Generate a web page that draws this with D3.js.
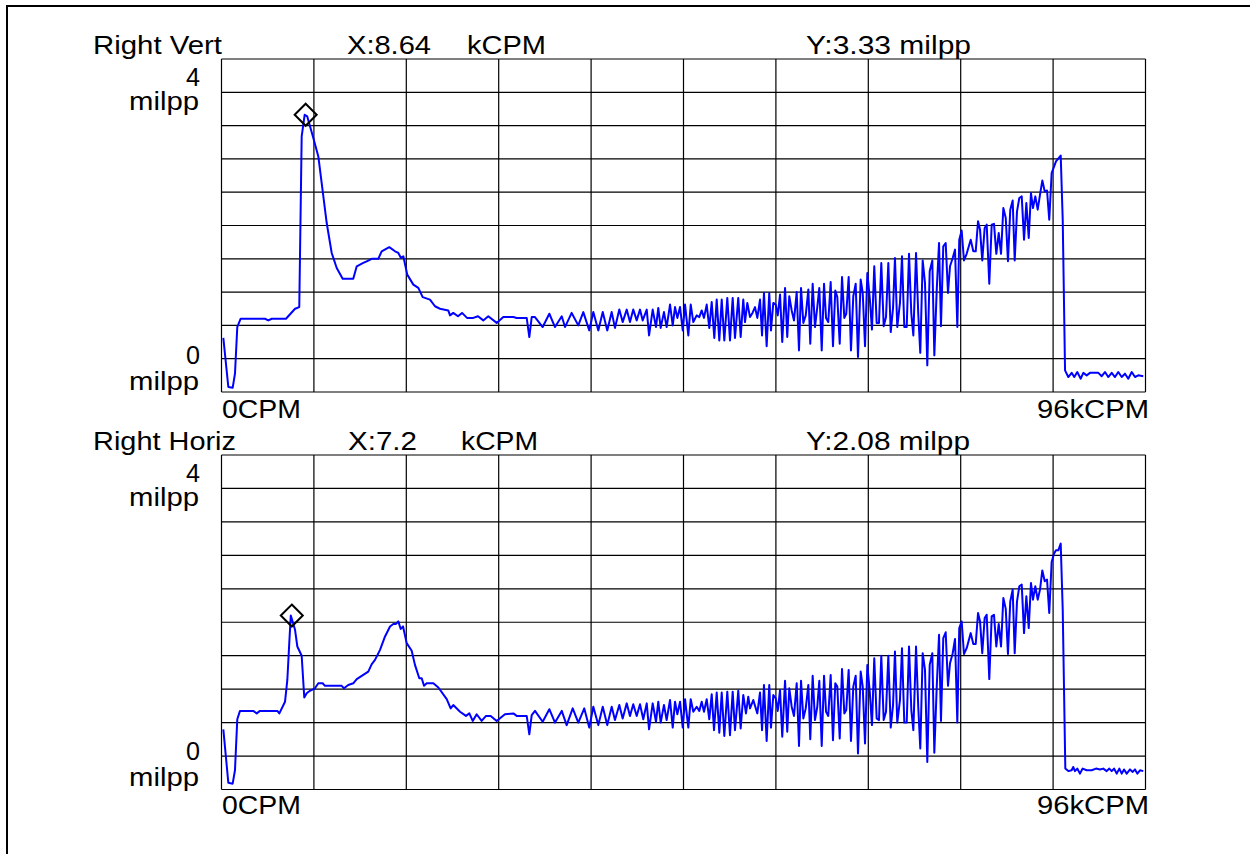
<!DOCTYPE html>
<html>
<head>
<meta charset="utf-8">
<script src="https://cdn.jsdelivr.net/npm/d3@7"></script>
<style>
html,body{margin:0;padding:0;background:#fff;}
svg{display:block;}
text{font-family:"Liberation Sans",Arial,sans-serif;font-size:25px;fill:#000;}
</style>
</head>
<body>
<svg id="chart" width="1250" height="854"></svg>
<script>
// ---- Data (kCPM vs milpp) ----
const xGridTicks = [0, 9.6, 19.2, 28.8, 38.4, 48, 57.6, 67.2, 76.8, 86.4, 96];
const yGridTicks = [0, 0.4, 0.8, 1.2, 1.6, 2.0, 2.4, 2.8, 3.2, 3.6, 4.0];

const vertX = [0.19,0.71,1.16,1.40,1.64,1.99,4.52,4.86,5.22,6.70,
7.64,8.08,8.33,8.64,8.91,9.54,10.06,10.93,11.45,11.97,
12.59,13.69,14.05,14.39,14.73,15.09,15.61,16.29,16.64,17.43,
18.03,18.37,18.65,18.89,19.30,19.93,20.45,20.90,21.66,22.18,
22.70,23.56,23.74,24.08,24.57,24.99,25.51,26.16,26.65,27.20,
27.72,28.59,29.28,30.32,30.67,31.71,31.98,32.23,32.57,33.37,
34.06,34.65,35.35,35.69,36.38,37.07,37.59,38.21,38.63,39.15,
39.61,40.08,40.54,40.88,41.33,41.68,42.10,42.44,42.78,43.14,
43.48,43.76,44.18,44.42,44.80,45.14,45.38,45.63,45.97,46.25,
46.60,46.88,47.12,47.36,47.64,47.92,48.16,48.50,48.75,49.02,
49.37,49.64,49.89,50.13,50.41,50.68,50.93,51.20,51.45,51.72,
51.97,52.24,52.55,52.83,53.11,53.35,53.69,53.94,54.21,54.39,
54.63,54.91,55.17,55.43,55.67,55.95,56.16,56.36,56.64,56.91,
57.09,57.33,57.58,57.79,58.03,58.26,58.55,58.78,58.99,59.24,
59.48,59.76,60.00,60.21,60.45,60.70,60.97,61.17,61.42,61.66,
61.90,62.11,62.36,62.60,62.81,63.04,63.29,63.53,63.77,63.98,
64.23,64.47,64.71,64.91,65.16,65.40,65.64,65.89,66.13,66.41,
66.62,66.86,67.10,67.35,67.58,67.82,68.07,68.31,68.55,68.80,
69.04,69.28,69.53,69.77,69.97,70.21,70.49,70.70,70.94,71.19,
71.43,71.67,71.88,72.16,72.39,72.60,72.85,73.09,73.33,73.58,
73.85,74.06,74.31,74.55,74.75,74.99,75.24,75.48,75.69,75.97,
76.21,76.45,76.65,76.90,77.14,77.42,77.84,78.11,78.36,78.60,
78.81,79.04,79.29,79.50,79.77,80.02,80.26,80.50,80.75,80.99,
81.23,81.48,81.71,81.95,82.20,82.41,82.65,82.89,83.14,83.38,
83.62,83.87,84.10,84.31,84.55,84.80,85.04,85.28,85.53,85.77,
86.00,86.25,86.70,87.19,87.40,87.64,87.98,88.33,88.60,88.91,
89.27,89.54,89.89,90.23,91.10,91.45,91.79,92.13,92.49,92.83,
93.17,93.53,93.87,94.21,94.57,94.91,95.25,95.77];

const vertY = [0.65,0.06,0.05,0.22,0.78,0.88,0.88,0.86,0.88,0.88,
1.00,1.02,3.07,3.33,3.31,3.05,2.83,2.03,1.67,1.49,
1.36,1.36,1.51,1.53,1.55,1.57,1.60,1.60,1.69,1.74,
1.69,1.67,1.61,1.63,1.41,1.29,1.25,1.14,1.11,1.03,
1.00,0.98,0.92,0.95,0.91,0.95,0.89,0.89,0.91,0.86,
0.91,0.83,0.90,0.90,0.89,0.89,0.66,0.90,0.90,0.78,
0.94,0.78,0.91,0.78,0.95,0.80,0.96,0.74,0.96,0.74,
0.96,0.74,0.96,0.77,0.99,0.84,0.99,0.84,0.99,0.86,
0.99,0.86,0.99,0.68,0.99,0.78,1.01,0.77,0.96,0.78,
1.05,0.80,1.02,0.89,1.02,0.74,1.05,0.68,1.05,0.84,
0.92,0.90,0.98,0.89,1.05,0.77,1.08,0.65,1.11,0.62,
1.11,0.62,1.13,0.62,1.13,0.65,1.13,0.66,1.11,0.84,
1.07,0.90,0.95,1.02,0.89,1.11,0.68,1.19,0.55,1.19,
0.74,1.07,1.05,0.92,1.17,0.60,1.25,0.66,1.15,0.98,
0.86,1.20,0.50,1.25,0.83,0.92,1.23,0.58,1.30,0.78,
1.02,1.25,0.50,1.30,0.89,0.84,1.32,0.55,1.22,1.14,
0.58,1.38,0.89,0.94,1.38,0.50,1.15,1.30,0.42,1.35,
1.19,0.55,1.43,1.13,0.75,1.51,0.83,0.83,1.55,0.79,
0.90,1.55,0.72,1.01,1.61,0.78,1.07,1.63,0.78,0.78,
1.66,0.94,0.68,1.67,0.94,0.47,1.58,1.31,0.32,1.45,
1.58,0.44,1.23,1.79,0.79,1.75,1.79,1.19,1.51,1.61,
1.71,0.78,1.83,1.94,1.58,1.66,1.83,1.69,1.69,2.05,
1.95,1.58,1.97,2.01,1.30,2.01,2.02,1.66,1.91,1.66,
2.21,2.09,1.57,2.19,2.30,1.58,2.17,2.33,2.35,1.83,
2.27,1.85,2.39,2.21,2.35,2.19,2.37,2.54,2.41,2.42,
2.07,2.63,2.77,2.84,2.07,0.26,0.18,0.23,0.18,0.24,
0.16,0.23,0.20,0.23,0.23,0.19,0.24,0.18,0.23,0.18,
0.24,0.18,0.22,0.16,0.24,0.18,0.20,0.19];

const horizX = [0.19,0.71,1.16,1.40,1.64,1.92,3.30,3.66,4.00,5.80,
6.01,6.60,6.84,7.04,7.20,7.64,7.88,8.33,8.60,8.85,
9.19,9.71,10.06,10.51,10.75,12.49,12.73,13.17,13.69,14.05,
14.73,15.25,15.61,15.95,16.47,16.99,17.51,17.85,18.13,18.37,
18.62,18.86,19.24,19.76,20.10,20.55,20.80,21.04,21.32,22.01,
22.53,23.40,23.81,24.08,24.78,25.40,25.75,26.10,26.51,27.03,
27.48,27.97,28.59,29.45,30.32,30.67,31.71,31.98,32.23,32.57,
33.37,34.06,34.65,35.35,35.86,36.49,37.07,37.69,38.21,38.63,
39.15,39.61,40.08,40.54,40.88,41.33,41.68,42.10,42.44,42.78,
43.14,43.48,43.82,44.18,44.42,44.80,45.14,45.38,45.63,45.97,
46.25,46.60,46.88,47.12,47.36,47.64,47.92,48.16,48.50,48.75,
49.02,49.37,49.64,49.89,50.13,50.41,50.68,50.93,51.17,51.45,
51.72,51.97,52.24,52.55,52.83,53.11,53.35,53.69,53.94,54.21,
54.49,54.73,54.91,55.25,55.67,55.95,56.16,56.36,56.64,56.91,
57.09,57.33,57.58,57.79,58.03,58.26,58.55,58.78,58.99,59.24,
59.48,59.76,60.00,60.21,60.45,60.70,60.97,61.17,61.42,61.66,
61.90,62.11,62.36,62.60,62.81,63.04,63.29,63.53,63.77,63.98,
64.23,64.47,64.71,64.91,65.16,65.40,65.64,65.89,66.13,66.41,
66.62,66.86,67.10,67.35,67.58,67.82,68.07,68.31,68.55,68.80,
69.04,69.28,69.53,69.77,69.97,70.21,70.49,70.70,70.94,71.19,
71.43,71.67,71.88,72.16,72.39,72.60,72.85,73.09,73.33,73.58,
73.85,74.06,74.31,74.55,74.75,74.99,75.24,75.48,75.69,75.97,
76.21,76.45,76.65,76.90,77.14,77.42,77.84,78.11,78.36,78.60,
78.81,79.04,79.29,79.50,79.77,80.02,80.26,80.50,80.75,80.99,
81.23,81.48,81.71,81.95,82.20,82.41,82.65,82.89,83.14,83.38,
83.62,83.87,84.10,84.31,84.55,84.80,85.04,85.28,85.53,85.77,
86.00,86.25,86.49,86.70,86.94,87.19,87.40,87.67,87.98,88.33,
88.49,88.67,88.91,89.19,89.47,89.89,90.41,90.86,91.27,91.61,
91.97,92.24,92.49,92.73,93.01,93.28,93.53,93.77,94.05,94.39,
94.67,94.91,95.15,95.43,95.77];

const horizY = [0.72,0.08,0.07,0.23,0.84,0.94,0.94,0.91,0.94,0.94,
0.91,1.05,1.31,1.75,2.08,1.91,1.71,1.60,1.10,1.15,
1.18,1.21,1.27,1.27,1.24,1.24,1.21,1.25,1.27,1.32,
1.37,1.41,1.50,1.55,1.67,1.83,1.95,1.98,1.98,2.01,
1.92,1.95,1.75,1.66,1.49,1.33,1.33,1.24,1.27,1.27,
1.22,1.08,0.97,1.01,0.93,0.88,0.91,0.82,0.90,0.82,
0.88,0.88,0.82,0.90,0.91,0.88,0.88,0.66,0.89,0.94,
0.81,0.96,0.80,0.94,0.77,0.97,0.80,0.97,0.74,0.99,
0.77,0.99,0.77,0.99,0.83,1.01,0.85,1.03,0.88,1.02,
0.88,1.02,0.84,1.03,0.72,1.03,0.81,1.05,0.80,1.01,
0.83,1.07,0.74,1.05,0.90,1.05,0.74,1.08,0.74,1.08,
0.93,0.99,0.94,1.05,0.93,1.08,0.84,1.14,0.71,1.16,
0.68,1.16,0.64,1.17,0.65,1.17,0.71,1.18,0.73,1.13,
0.91,1.11,0.97,1.07,0.91,1.16,0.71,1.25,0.58,1.25,
0.74,1.13,1.09,0.94,1.19,0.63,1.30,0.69,1.21,0.99,
0.88,1.27,0.52,1.30,0.85,0.97,1.25,0.60,1.36,0.83,
0.99,1.30,0.52,1.36,0.93,0.88,1.37,0.59,1.27,1.23,
0.61,1.44,0.91,0.95,1.43,0.58,1.23,1.36,0.43,1.41,
1.23,0.55,1.49,1.17,0.77,1.57,0.85,0.83,1.60,0.83,
0.93,1.60,0.74,1.01,1.65,0.80,1.07,1.69,0.80,0.80,
1.71,0.95,0.71,1.71,0.99,0.49,1.63,1.43,0.33,1.49,
1.63,0.44,1.23,1.85,0.82,1.81,1.88,1.24,1.51,1.63,
1.80,0.80,1.93,2.01,1.62,1.69,1.87,1.74,1.74,2.11,
2.01,1.63,2.05,2.09,1.32,2.07,2.09,1.71,1.98,1.71,
2.29,2.16,1.62,2.25,2.39,1.63,2.25,2.43,2.45,1.87,
2.31,1.93,2.47,2.27,2.43,2.27,2.39,2.62,2.49,2.51,
2.11,2.72,2.82,2.86,2.86,2.94,2.15,0.25,0.22,0.23,
0.27,0.22,0.25,0.19,0.25,0.23,0.23,0.25,0.24,0.25,
0.22,0.25,0.22,0.25,0.19,0.25,0.19,0.24,0.19,0.24,
0.21,0.24,0.19,0.23,0.22];

const panelNames = ["Right Vert", "Right Horiz"];
const cursorX = [8.64, 7.2];
const cursorY = [3.33, 2.08];
const cursorXText = ["X:8.64", "X:7.2"];
const cursorYText = ["Y:3.33 milpp", "Y:2.08 milpp"];
const unitText = ["kCPM", "kCPM"];
const yTopLabel = "4", yBottomLabel = "0", yUnit = "milpp";
const xMinLabel = "0CPM", xMaxLabel = "96kCPM";

// ---- Drawing ----
const svg = d3.select("#chart");

// outer frame (top and left edges)
svg.append("line").attr("x1", 7).attr("y1", 6).attr("x2", 1250).attr("y2", 6)
  .attr("stroke", "#000").attr("stroke-width", 2);
svg.append("line").attr("x1", 7).attr("y1", 5).attr("x2", 7).attr("y2", 854)
  .attr("stroke", "#000").attr("stroke-width", 2);

function label(g, str, x, baseline, width) {
  const t = g.append("text").attr("x", x).attr("y", baseline).text(str);
  if (width) t.attr("textLength", width).attr("lengthAdjust", "spacingAndGlyphs");
  return t;
}

const panels = [
  {top: 59, bottom: 392, xs: vertX, ys: vertY, dy: 0, nameW: 129, xTxtX: 347, xTxtW: 84, unitX: 467, unitW: 79, yTxtW: 165},
  {top: 455, bottom: 789.5, xs: horizX, ys: horizY, dy: 396, nameW: 143, xTxtX: 348, xTxtW: 69, unitX: 461, unitW: 77, yTxtW: 164}
];

const left = 221.5, right = 1145.5;

panels.forEach((p, i) => {
  const x = d3.scaleLinear().domain([0, 96]).range([left, right]);
  const y = d3.scaleLinear().domain([0, 4]).range([p.bottom, p.top]);
  const g = svg.append("g");

  // grid
  g.selectAll("line.h").data(yGridTicks).enter().append("line")
    .attr("x1", left).attr("x2", right)
    .attr("y1", d => y(d)).attr("y2", d => y(d))
    .attr("stroke", "#000").attr("stroke-width", 1.2);
  g.selectAll("line.v").data(xGridTicks).enter().append("line")
    .attr("x1", d => x(d)).attr("x2", d => x(d))
    .attr("y1", p.top).attr("y2", p.bottom)
    .attr("stroke", "#000").attr("stroke-width", 1.2);

  // data line
  const n = Math.min(p.xs.length, p.ys.length);
  const pts = d3.range(n).map(k => [p.xs[k], p.ys[k]]);
  const line = d3.line().x(d => x(d[0])).y(d => y(d[1]));
  g.append("path").datum(pts).attr("d", line)
    .attr("fill", "none").attr("stroke", "#0000ff").attr("stroke-width", 2)
    .attr("stroke-linejoin", "round");

  // cursor diamond
  const cx = x(cursorX[i]) + 1, cy = y(cursorY[i]);
  const r = 11;
  g.append("path")
    .attr("d", `M${cx},${cy - r}L${cx + r},${cy}L${cx},${cy + r}L${cx - r},${cy}Z`)
    .attr("fill", "none").attr("stroke", "#000").attr("stroke-width", 2);

  // texts
  const d = p.dy;
  label(g, panelNames[i], 93, 54 + d, p.nameW);
  label(g, cursorXText[i], p.xTxtX, 54 + d, p.xTxtW);
  label(g, unitText[i], p.unitX, 54 + d, p.unitW);
  label(g, cursorYText[i], 806, 54 + d, p.yTxtW);
  label(g, yTopLabel, 186, 86 + d, 14);
  label(g, yUnit, 129, 110 + d, 70);
  label(g, yBottomLabel, 186, 364 + d, 14);
  label(g, yUnit, 129, 390 + d, 70);
  label(g, xMinLabel, 222, 418 + d, 79);
  label(g, xMaxLabel, 1037, 418 + d, 112);
});
</script>
</body>
</html>
